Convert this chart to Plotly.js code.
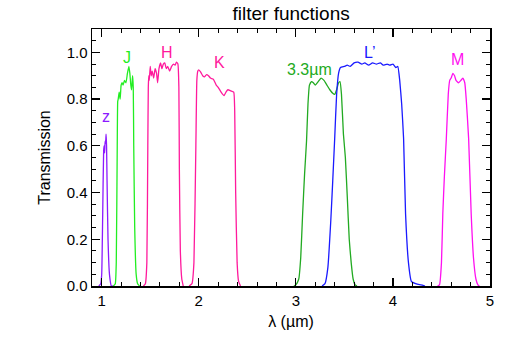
<!DOCTYPE html>
<html>
<head>
<meta charset="utf-8">
<script src="https://cdn.plot.ly/plotly-3.0.1.min.js"></script>
<style>
  html, body { margin: 0; padding: 0; background: #fff; }
  #plot { width: 518px; height: 345px; }
</style>
</head>
<body>
<div id="plot"></div>
<script>
// filter transmission curves (wavelength in micron)
const zLam = [0.97, 0.99, 1.00, 1.01, 1.02, 1.025, 1.03, 1.035, 1.04, 1.045, 1.05, 1.055, 1.065, 1.08, 1.10, 1.12];
const zT   = [0, 0.01, 0.05, 0.3, 0.58, 0.6, 0.57, 0.62, 0.61, 0.65, 0.6, 0.45, 0.2, 0.05, 0.0, 0];

const jLam = [1.12, 1.14, 1.15, 1.16, 1.165, 1.17, 1.18, 1.19, 1.20, 1.21, 1.22, 1.235, 1.25, 1.265, 1.28, 1.29, 1.30, 1.308, 1.318, 1.325, 1.33, 1.34, 1.355, 1.37, 1.39];
const jT   = [0, 0.01, 0.1, 0.6, 0.79, 0.80, 0.83, 0.80, 0.86, 0.87, 0.86, 0.88, 0.87, 0.91, 0.94, 0.91, 0.86, 0.84, 0.90, 0.85, 0.6, 0.25, 0.05, 0.01, 0];

const hLam = [1.43, 1.45, 1.465, 1.475, 1.48, 1.485, 1.49, 1.50, 1.51, 1.52, 1.535, 1.55, 1.565, 1.576, 1.59, 1.607, 1.62, 1.635, 1.65, 1.665, 1.68, 1.70, 1.72, 1.74, 1.755, 1.77, 1.785, 1.795, 1.80, 1.81, 1.825, 1.84];
const hT   = [0, 0.01, 0.1, 0.6, 0.85, 0.90, 0.88, 0.94, 0.90, 0.92, 0.89, 0.93, 0.91, 0.87, 0.93, 0.955, 0.93, 0.95, 0.955, 0.93, 0.94, 0.92, 0.94, 0.95, 0.945, 0.958, 0.95, 0.85, 0.5, 0.15, 0.03, 0];

const kLam = [1.90, 1.93, 1.95, 1.97, 1.98, 1.99, 2.00, 2.02, 2.04, 2.06, 2.08, 2.10, 2.12, 2.15, 2.18, 2.20, 2.23, 2.26, 2.28, 2.30, 2.33, 2.36, 2.37, 2.38, 2.395, 2.41, 2.43];
const kT   = [0, 0.01, 0.1, 0.6, 0.88, 0.92, 0.925, 0.915, 0.90, 0.895, 0.905, 0.90, 0.89, 0.885, 0.86, 0.85, 0.83, 0.815, 0.83, 0.84, 0.835, 0.83, 0.75, 0.4, 0.1, 0.02, 0];

const l33Lam = [2.98, 3.00, 3.03, 3.05, 3.07, 3.09, 3.11, 3.125, 3.14, 3.16, 3.18, 3.20, 3.23, 3.26, 3.29, 3.32, 3.35, 3.38, 3.40, 3.42, 3.44, 3.455, 3.47, 3.49, 3.51, 3.53, 3.55, 3.57, 3.59, 3.61, 3.63];
const l33T   = [0, 0.005, 0.03, 0.12, 0.31, 0.48, 0.62, 0.78, 0.86, 0.875, 0.87, 0.86, 0.875, 0.89, 0.88, 0.86, 0.84, 0.825, 0.82, 0.84, 0.87, 0.875, 0.82, 0.65, 0.55, 0.38, 0.2, 0.1, 0.03, 0.005, 0];

const lpLam = [3.27, 3.30, 3.33, 3.36, 3.38, 3.40, 3.42, 3.44, 3.46, 3.50, 3.53, 3.56, 3.60, 3.64, 3.68, 3.71, 3.75, 3.79, 3.83, 3.87, 3.90, 3.94, 3.97, 4.00, 4.03, 4.05, 4.07, 4.09, 4.11, 4.13, 4.16, 4.19, 4.25, 4.31, 4.33];
const lpT   = [0, 0.01, 0.08, 0.28, 0.45, 0.63, 0.82, 0.91, 0.935, 0.94, 0.945, 0.94, 0.955, 0.958, 0.95, 0.955, 0.945, 0.955, 0.95, 0.955, 0.945, 0.95, 0.945, 0.95, 0.935, 0.94, 0.88, 0.78, 0.63, 0.31, 0.1, 0.02, 0.008, 0.003, 0];

const mLam = [4.46, 4.48, 4.50, 4.514, 4.53, 4.55, 4.57, 4.585, 4.60, 4.617, 4.635, 4.65, 4.676, 4.70, 4.72, 4.74, 4.755, 4.78, 4.806, 4.83, 4.855, 4.875, 4.89];
const mT   = [0, 0.005, 0.1, 0.31, 0.47, 0.63, 0.82, 0.88, 0.89, 0.91, 0.90, 0.88, 0.87, 0.88, 0.89, 0.87, 0.8, 0.63, 0.31, 0.12, 0.03, 0.005, 0];

const filterNames = ['z', 'J', 'H', 'K', '3.3\u00b5m', 'L\u2019', 'M'];

const colors = ['#8c1aff', '#22ee22', '#ff1a9c', '#ff1a9c', '#22aa22', '#1a1aff', '#ff10f0'];
const curves = [[zLam, zT], [jLam, jT], [hLam, hT], [kLam, kT], [l33Lam, l33T], [lpLam, lpT], [mLam, mT]];

const traces = curves.map((c, i) => ({
  type: 'scatter',
  mode: 'lines',
  name: filterNames[i],
  x: c[0],
  y: c[1],
  line: { color: colors[i], width: 1.3, shape: 'spline', smoothing: 0.4 }
}));

// where each label sits, in data units
const labelPos = [[1.044, 0.725], [1.257, 0.98], [1.668, 1.0], [2.21, 0.958], [3.143, 0.927], [3.76, 0.998], [4.67, 0.97]];
const annotations = filterNames.map((n, i) => ({
  x: labelPos[i][0], y: labelPos[i][1], xref: 'x', yref: 'y',
  text: n, showarrow: false,
  font: { family: 'Liberation Sans, Arial, sans-serif', size: 16, color: colors[i] }
}));

const axisCommon = {
  showline: true, linecolor: '#000', linewidth: 1.5, mirror: 'allticks',
  ticks: 'inside', ticklen: 8, tickwidth: 1.2, tickcolor: '#000',
  showgrid: false, zeroline: false,
  tickfont: { family: 'Liberation Sans, Arial, sans-serif', size: 15, color: '#000' }
};

const layout = {
  width: 518, height: 345,
  margin: { l: 92, r: 28, t: 29, b: 59 },
  paper_bgcolor: '#fff', plot_bgcolor: '#fff',
  showlegend: false,
  title: { text: 'filter functions', x: 0.562, xanchor: 'center', y: 0.962, yanchor: 'middle',
           font: { family: 'Liberation Sans, Arial, sans-serif', size: 19, color: '#000' } },
  xaxis: Object.assign({}, axisCommon, {
    range: [0.9, 5], tick0: 1, dtick: 1,
    minor: { dtick: 0.2, ticklen: 4, tickwidth: 1, tickcolor: '#000', ticks: 'inside' },
    title: { text: '\u03bb (\u00b5m)', standoff: 8,
             font: { family: 'Liberation Sans, Arial, sans-serif', size: 16, color: '#000' } }
  }),
  yaxis: Object.assign({}, axisCommon, {
    range: [0, 1.1], tick0: 0, dtick: 0.2, tickformat: '.1f',
    minor: { dtick: 0.05, ticklen: 4, tickwidth: 1, tickcolor: '#000', ticks: 'inside' },
    title: { text: 'Transmission', standoff: 12,
             font: { family: 'Liberation Sans, Arial, sans-serif', size: 16, color: '#000' } }
  }),
  annotations: annotations
};

Plotly.newPlot('plot', traces, layout, { staticPlot: true, displayModeBar: false });
</script>
</body>
</html>
